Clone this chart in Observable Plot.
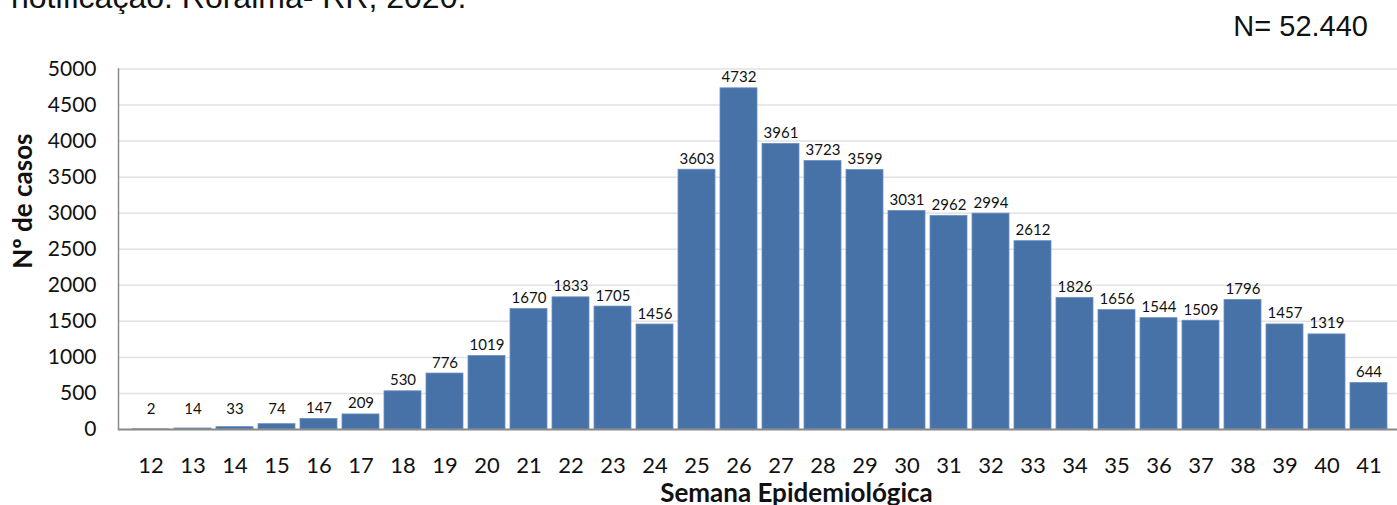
<!DOCTYPE html>
<html>
<head>
<meta charset="utf-8">
<script src="https://cdn.jsdelivr.net/npm/d3@7"></script>
<script src="https://cdn.jsdelivr.net/npm/@observablehq/plot@0.6"></script>
<style>
  html, body { margin: 0; padding: 0; background: #fff; overflow: hidden; }
  #wrap { position: relative; width: 1397px; height: 505px; overflow: hidden; }
  .title { height: 14px; overflow: hidden; font-family: "Liberation Sans", Arial, sans-serif; font-size: 32px; line-height: 32px; color: #111; white-space: nowrap; }
  .title span { display: block; margin-top: -19px; padding-left: 11px; }
  .ncount { position: absolute; top: 12px; right: 29px; font-family: "Liberation Sans", Arial, sans-serif; font-size: 29px; line-height: 29px; color: #111; }
  #chart svg { display: block; }
</style>
</head>
<body>
<div id="wrap">
  <div class="title"><span>notificação. Roraima- RR, 2020.</span></div>
  <div class="ncount">N= 52.440</div>
  <div id="chart"></div>
</div>
<script>
const weeks = ["12","13","14","15","16","17","18","19","20","21","22","23","24","25","26","27","28","29","30","31","32","33","34","35","36","37","38","39","40","41"];
const cases = [2,14,33,74,147,209,530,776,1019,1670,1833,1705,1456,3603,4732,3961,3723,3599,3031,2962,2994,2612,1826,1656,1544,1509,1796,1457,1319,644];
const yTicks = [0,500,1000,1500,2000,2500,3000,3500,4000,4500,5000];
const xTitle = "Semana Epidemiológica";
const yTitle = "Nº de casos";

const data = weeks.map((w, i) => ({week: w, value: cases[i]}));

const chart = Plot.plot({
  width: 1397,
  height: 491,
  marginLeft: 118,
  marginRight: 0,
  marginTop: 54.5,
  marginBottom: 76,
  style: {fontFamily: "Lato, 'Open Sans', sans-serif", fontSize: "21px", color: "#111", background: "#fff"},
  x: {type: "band", domain: weeks, range: [118, 1401], paddingInner: 0.12, paddingOuter: 0.06},
  y: {domain: [0, 5000], range: [415, 54.5]},
  marks: [
    Plot.gridY(yTicks, {stroke: "#e2e2e2", strokeOpacity: 1, strokeWidth: 1.5}),
    Plot.barY(data, {x: "week", y: "value", fill: "#4672a8", stroke: "#6b8fc0", strokeWidth: 0.8}),
    Plot.frame({anchor: "left", stroke: "#8a8a8a", strokeWidth: 1.5}),
    Plot.ruleY([0], {stroke: "#8a8a8a", strokeWidth: 2}),
    Plot.axisY(yTicks, {tickSize: 0, tickPadding: 22, label: null, tickFormat: d => String(d), fontSize: 21, fill: "#111"}),
    Plot.axisX({tickSize: 0, tickPadding: 28, label: null, fontSize: 22, fill: "#111"}),
    Plot.text(data, {x: "week", y: d => Math.max(d.value, 138), text: d => String(d.value), dy: -6, lineAnchor: "bottom", fontSize: 15, fill: "#111"}),
    Plot.text([xTitle], {frameAnchor: "bottom", dx: 38.5, dy: 64, lineAnchor: "middle", fontWeight: "bold", fontSize: 26, fill: "#111"}),
    Plot.text([yTitle], {frameAnchor: "left", rotate: -90, dx: -95, dy: 19.5, lineAnchor: "middle", fontWeight: "bold", fontSize: 26, fill: "#111"})
  ]
});
document.getElementById("chart").appendChild(chart);
</script>
</body>
</html>
